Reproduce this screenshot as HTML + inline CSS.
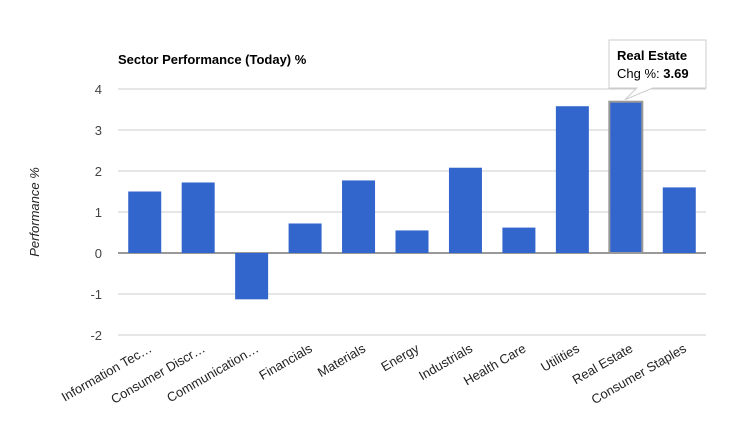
<!DOCTYPE html>
<html><head><meta charset="utf-8"><style>body{margin:0;background:#fff}svg{display:block;font-family:"Liberation Sans",Arial,sans-serif}</style></head>
<body>
<svg id="c" width="738" height="440">
<text x="118" y="64" font-size="13" font-weight="bold" fill="#000">Sector Performance (Today) %</text>
<text transform="translate(39,212) rotate(-90)" text-anchor="middle" font-size="13" font-style="italic" fill="#222">Performance %</text>
<g id="grid"></g><g id="bars"></g><g id="xl"></g>
</svg>
<script>
const categories=["Information Tec…","Consumer Discr…","Communication…","Financials","Materials","Energy","Industrials","Health Care","Utilities","Real Estate","Consumer Staples"];
const values=[1.5,1.72,-1.13,0.72,1.77,0.55,2.08,0.62,3.58,3.69,1.6];
const ticks=[-2,-1,0,1,2,3,4];
const NS="http://www.w3.org/2000/svg";
const X0=118,X1=706,Y0=253,PU=41;
const y=v=>Y0-v*PU;
const step=(X1-X0)/categories.length;
const xc=i=>X0+step*(i+0.5);
function mk(t,a,p){const e=document.createElementNS(NS,t);for(const k in a)e.setAttribute(k,a[k]);p.appendChild(e);return e;}
const grid=document.getElementById('grid'),bars=document.getElementById('bars'),xl=document.getElementById('xl');
ticks.forEach(t=>{
 const l=mk('line',{x1:X0,x2:X1,y1:y(t),y2:y(t),stroke:t===0?'#333':'#ccc','stroke-width':1},grid);
 
 
 const tx=mk('text',{x:102,y:y(t)+5,'text-anchor':'end','font-size':13,fill:'#444'},grid);
 tx.textContent=t;
 
 
});
values.forEach((v,i)=>{
 const bw=33,top=Math.min(y(v),Y0),h=Math.abs(y(v)-Y0);
 const hl=i===9;
 const r=mk('rect',{x:xc(i)-bw/2,y:top,width:bw,height:h,fill:'#3366cc',stroke:hl?'#999':'none','stroke-width':hl?2:0},bars);
 
 
 const t=mk('text',{'text-anchor':'end','font-size':13,fill:'#222',transform:`translate(${xc(i)+8},${351}) rotate(-30)`},xl);
 t.textContent=categories[i];
 
 
});
// tooltip
const ti=9,tv=values[ti],tg=mk('g',{},document.getElementById('c'));


const bx=609,by=40,bw2=97,bh=48,px=xc(ti)-1,py=y(tv)-2;
mk('path',{d:`M${bx} ${by}H${bx+bw2}V${by+bh}H${px+28}L${px} ${py}L${px+12} ${by+bh}H${bx}Z`,fill:'#fff',stroke:'#ccc'},tg);
const t1=mk('text',{x:617,y:60,'font-size':13,'font-weight':'bold',fill:'#000'},tg);t1.textContent=categories[ti];
const t2=mk('text',{x:617,y:78,'font-size':13,fill:'#000'},tg);t2.innerHTML='Chg %: <tspan font-weight="bold">'+tv.toFixed(2)+'</tspan>';
</script>
</body></html>
